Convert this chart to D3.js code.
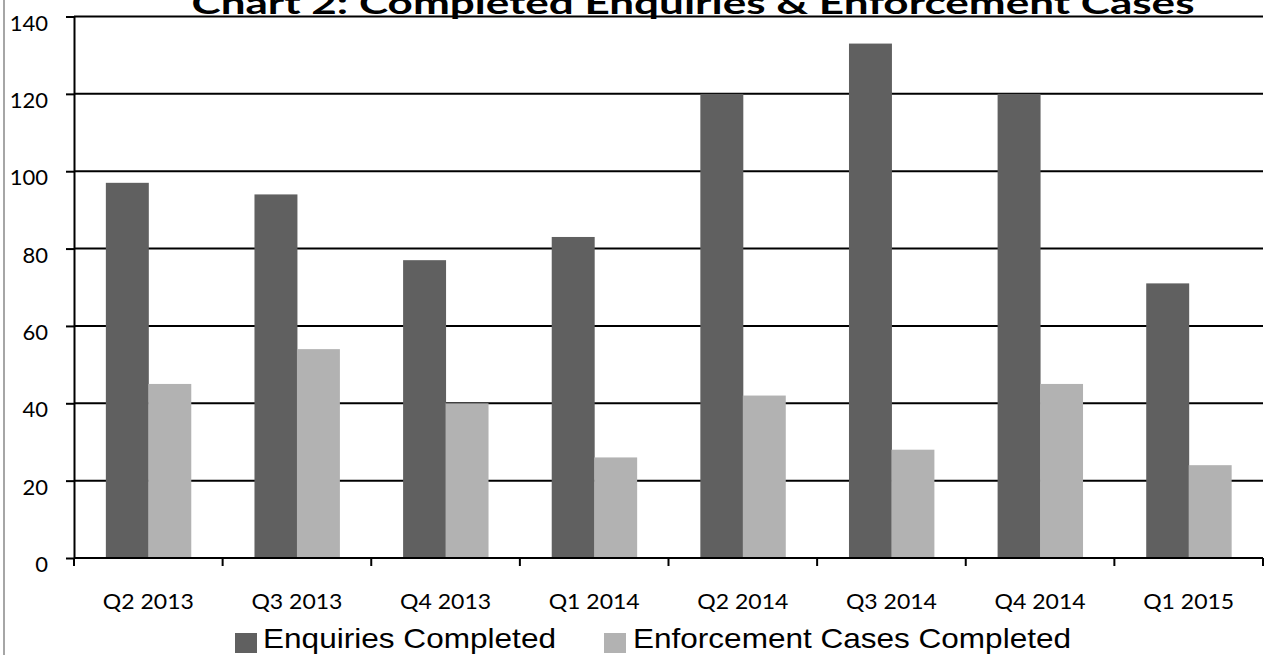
<!DOCTYPE html>
<html>
<head>
<meta charset="utf-8">
<script src="https://cdn.jsdelivr.net/npm/d3@7"></script>
<style>
  html, body { margin: 0; padding: 0; background: #fff; }
  svg { display: block; }
</style>
</head>
<body>
<svg id="chart" width="1271" height="655"></svg>
<script>
// Quarterly figures
const quarters = ["Q2 2013", "Q3 2013", "Q4 2013", "Q1 2014", "Q2 2014", "Q3 2014", "Q4 2014", "Q1 2015"];
const enquiriesCompleted = [97, 94, 77, 83, 120, 133, 120, 71];
const enforcementCompleted = [45, 54, 40, 26, 42, 28, 45, 24];
const seriesNames = ["Enquiries Completed", "Enforcement Cases Completed"];
const seriesColors = ["#606060", "#b2b2b2"];
const yTicks = [0, 20, 40, 60, 80, 100, 120, 140];
const chartTitle = "Chart 2: Completed Enquiries & Enforcement Cases";

const svg = d3.select("#chart");
const W = 1271, H = 655;
const plot = { left: 74, right: 1263, top: 16.5, bottom: 558 };
const labelFont = "Lato, 'Open Sans', sans-serif";

// left chart frame edge
svg.append("line")
  .attr("x1", 4).attr("x2", 4).attr("y1", 0).attr("y2", H)
  .attr("stroke", "#a6a6a6").attr("stroke-width", 2);

const x0 = d3.scaleBand().domain(quarters).range([plot.left, plot.right]).paddingInner(0).paddingOuter(0);
// gap width of 150% between groups
const barW = x0.bandwidth() / 3.5;
const x1 = d3.scaleBand().domain(seriesNames).range([0, barW * 2]);
const groupOffset = (x0.bandwidth() - barW * 2) / 2;

const y = d3.scaleLinear().domain([0, 140]).range([plot.bottom, plot.top]);

// gridlines
svg.append("g")
  .selectAll("line")
  .data(yTicks.filter(d => d > 0))
  .join("line")
  .attr("x1", plot.left).attr("x2", plot.right)
  .attr("y1", d => y(d)).attr("y2", d => y(d))
  .attr("stroke", "#000").attr("stroke-width", 2);

// bars
const rows = quarters.map((q, i) => ({ q, vals: [enquiriesCompleted[i], enforcementCompleted[i]] }));
const groups = svg.append("g").selectAll("g")
  .data(rows)
  .join("g")
  .attr("transform", d => `translate(${x0(d.q) + groupOffset},0)`);
groups.selectAll("rect")
  .data(d => d.vals.map((v, k) => ({ name: seriesNames[k], v, k })))
  .join("rect")
  .attr("x", d => x1(d.name))
  .attr("width", x1.bandwidth() + 0.5)
  .attr("y", d => y(d.v))
  .attr("height", d => y(0) - y(d.v))
  .attr("fill", d => seriesColors[d.k]);

// y axis
const yAxis = d3.axisLeft(y).tickValues(yTicks).tickSize(8).tickSizeOuter(0).tickFormat(d3.format("d"));
const gy = svg.append("g").attr("transform", `translate(${plot.left},0)`).call(yAxis);
gy.select(".domain").attr("stroke", "#000").attr("stroke-width", 2);
gy.selectAll(".tick line").attr("stroke", "#000").attr("stroke-width", 2);
gy.selectAll(".tick text")
  .attr("x", -26).attr("dy", null).attr("y", 13.5)
  .attr("font-family", labelFont)
  .attr("font-size", 22).attr("fill", "#000");

// x axis with ticks at category boundaries
const gx = svg.append("g").attr("transform", `translate(0,${plot.bottom})`);
gx.append("line")
  .attr("x1", plot.left).attr("x2", plot.right)
  .attr("y1", 0).attr("y2", 0)
  .attr("stroke", "#000").attr("stroke-width", 2);
const boundaries = quarters.map(q => x0(q)).concat([plot.right]);
gx.selectAll("line.tk")
  .data(boundaries)
  .join("line").attr("class", "tk")
  .attr("x1", d => d).attr("x2", d => d)
  .attr("y1", 0).attr("y2", 8)
  .attr("stroke", "#000").attr("stroke-width", 2);
gx.selectAll("text")
  .data(quarters)
  .join("text")
  .attr("x", d => x0(d) + x0.bandwidth() / 2)
  .attr("y", 51)
  .attr("text-anchor", "middle")
  .attr("font-family", labelFont)
  .attr("font-size", 22)
  .attr("textLength", 91)
  .attr("lengthAdjust", "spacingAndGlyphs")
  .attr("fill", "#000")
  .text(d => d);

// title
svg.append("text")
  .attr("x", 693).attr("y", 14)
  .attr("text-anchor", "middle")
  .attr("font-family", labelFont)
  .attr("font-weight", "bold")
  .attr("font-size", 31)
  .attr("textLength", 1003)
  .attr("lengthAdjust", "spacingAndGlyphs")
  .attr("fill", "#000")
  .text(chartTitle);

// legend
const legendItems = [
  { name: seriesNames[0], color: seriesColors[0], sx: 235, tx: 263, tw: 293 },
  { name: seriesNames[1], color: seriesColors[1], sx: 604, tx: 633, tw: 438 }
];
const lg = svg.append("g");
lg.selectAll("rect")
  .data(legendItems)
  .join("rect")
  .attr("x", d => d.sx).attr("y", 633)
  .attr("width", 22).attr("height", 20)
  .attr("fill", d => d.color);
lg.selectAll("text")
  .data(legendItems)
  .join("text")
  .attr("x", d => d.tx).attr("y", 648)
  .attr("font-family", "'Liberation Sans', Arial, sans-serif")
  .attr("font-size", 28)
  .attr("textLength", d => d.tw)
  .attr("lengthAdjust", "spacingAndGlyphs")
  .attr("fill", "#000")
  .text(d => d.name);
</script>
</body>
</html>
